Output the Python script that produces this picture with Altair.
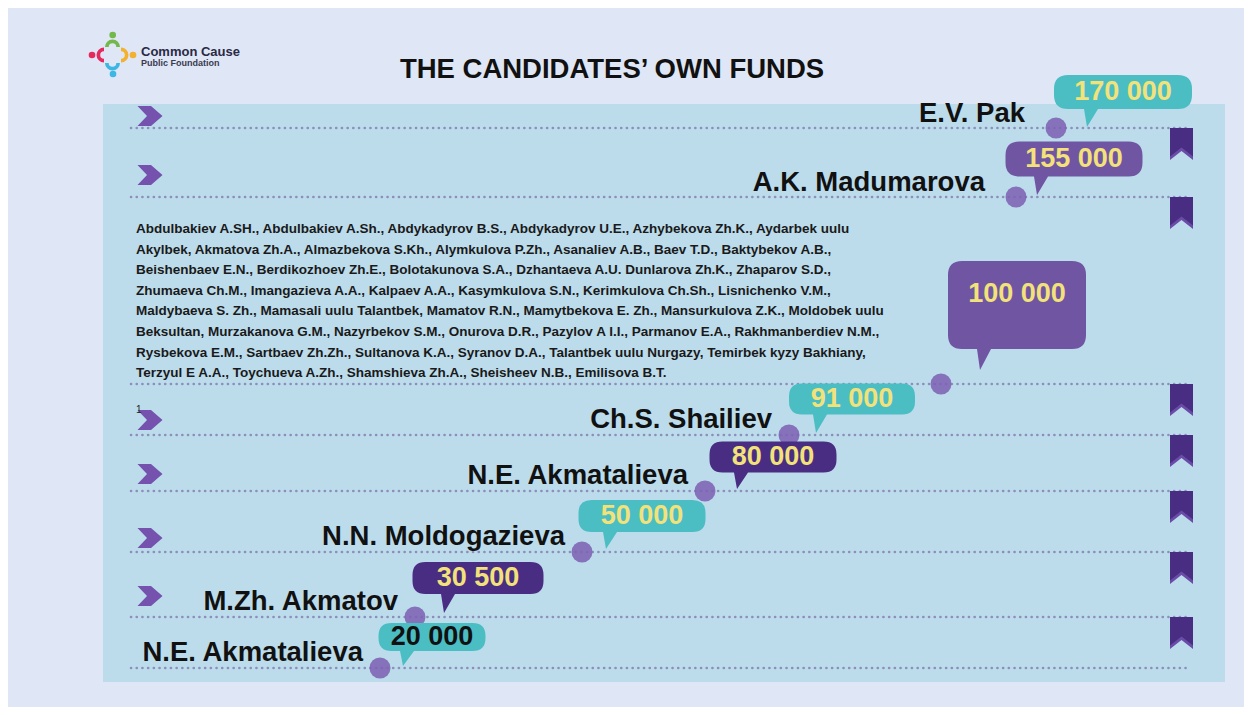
import altair as alt
import pandas as pd

# ---------------- data ----------------
values = [170000, 155000, 100000, 91000, 80000, 50000, 30500, 20000]
names = ["E.V. Pak", "A.K. Madumarova", "", "Ch.S. Shailiev", "N.E. Akmatalieva",
         "N.N. Moldogazieva", "M.Zh. Akmatov", "N.E. Akmatalieva"]
group_lines = [
    "Abdulbakiev A.SH., Abdulbakiev A.Sh., Abdykadyrov B.S., Abdykadyrov U.E., Azhybekova Zh.K., Aydarbek uulu",
    "Akylbek, Akmatova Zh.A., Almazbekova S.Kh., Alymkulova P.Zh., Asanaliev A.B., Baev T.D., Baktybekov A.B.,",
    "Beishenbaev E.N., Berdikozhoev Zh.E., Bolotakunova S.A., Dzhantaeva A.U. Dunlarova Zh.K., Zhaparov S.D.,",
    "Zhumaeva Ch.M., Imangazieva A.A., Kalpaev A.A., Kasymkulova S.N., Kerimkulova Ch.Sh., Lisnichenko V.M.,",
    "Maldybaeva S. Zh., Mamasali uulu Talantbek, Mamatov R.N., Mamytbekova E. Zh., Mansurkulova Z.K., Moldobek uulu",
    "Beksultan, Murzakanova G.M., Nazyrbekov S.M., Onurova D.R., Pazylov A I.I., Parmanov E.A., Rakhmanberdiev N.M.,",
    "Rysbekova E.M., Sartbaev Zh.Zh., Sultanova K.A., Syranov D.A., Talantbek uulu Nurgazy, Temirbek kyzy Bakhiany,",
    "Terzyul E A.A., Toychueva A.Zh., Shamshieva Zh.A., Sheisheev N.B., Emilisova B.T.",
]
title_text = "THE CANDIDATES\u2019 OWN FUNDS"
logo_name = "Common Cause"
logo_sub = "Public Foundation"
footnote = "1"

df = pd.DataFrame({"value": values, "name": names})
df["label"] = [f"{v:,}".replace(",", " ") for v in values]

# ---------------- styles / layout ----------------
FONT = "Liberation Sans"
TEAL = "#4bbec4"
MPURPLE = "#7055a3"
DPURPLE = "#482d82"
YELLOW = "#f3e27a"
DOT = "#7e62b4"
LINE = "#8c8fba"
CHEV = "#7452ad"

asc = sorted(values)
# staircase layout of the infographic (piecewise scales)
x_scale = alt.Scale(domain=asc, range=[277, 312, 479, 602, 686, 838, 913, 953], zero=False, nice=False)
y_scale = alt.Scale(domain=asc, range=[564, 513, 448, 387, 331, 280, 93, 24], zero=False, nice=False)
X = alt.X("value:Q", scale=x_scale, axis=None)
Y = alt.Y("value:Q", scale=y_scale, axis=None)

bubble_colors = [TEAL, MPURPLE, MPURPLE, TEAL, DPURPLE, TEAL, DPURPLE, TEAL]


def bubble(cx, cy, w, h, r, tx, ty):
    x0, x1 = cx - w / 2, cx + w / 2
    y0, y1 = cy - h / 2, cy + h / 2
    b0, b1 = tx - 3, tx + 11
    return (f"M{x0 + r},{y0} L{x1 - r},{y0} Q{x1},{y0} {x1},{y0 + r} L{x1},{y1 - r} "
            f"Q{x1},{y1} {x1 - r},{y1} L{b1},{y1} L{tx},{ty} L{b0},{y1} L{x0 + r},{y1} "
            f"Q{x0},{y1} {x0},{y1 - r} L{x0},{y0 + r} Q{x0},{y0} {x0 + r},{y0} Z")


bubble_shapes = [
    bubble(67, -36, 138, 34, 14, 31, -1),   # 170 000
    bubble(58, -38, 137, 35, 14, 21, -2),   # 155 000
    bubble(76, -79, 138, 88, 14, 39, -14),  # 100 000
    bubble(63, -36, 126, 31, 13, 27, -2),   # 91 000
    bubble(68, -34, 127, 31, 13, 32, -2),   # 80 000
    bubble(60, -36, 127, 32, 13, 24, -3),   # 50 000
    bubble(63, -39, 131, 32, 13, 29, -4),   # 30 500
    bubble(52, -31, 107, 28, 13, 23, -2),   # 20 000
]

CHEVRON = "M-12.5,-10 L1,-10 L12.5,0 L1,10 L-12.5,10 L-3,0 Z"
BOOK_LIGHT = "M-11.5,0 L11.5,0 L11.5,32 L0,23 L-11.5,32 Z"
BOOK_DARK = "M-11.5,0 L11.5,0 L11.5,28.5 L0,19.5 L-11.5,28.5 Z"

base = alt.Chart(df)

lines = base.mark_rule(strokeDash=[0.1, 5.6], strokeCap="round", strokeWidth=2.6, color=LINE).encode(
    x=alt.value(28), x2=alt.value(1085), y=Y)

books_light = base.transform_filter("datum.value != 20000").mark_point(
    shape=BOOK_LIGHT, size=4, filled=True, color="#6a4ca8", opacity=1, strokeWidth=0
).encode(x=alt.value(1078.5), y=Y)
books_dark = base.transform_filter("datum.value != 20000").mark_point(
    shape=BOOK_DARK, size=4, filled=True, color=DPURPLE, opacity=1, strokeWidth=0
).encode(x=alt.value(1078.5), y=Y)

chev_spec = [(170000, -12), (155000, -22), (91000, -15), (80000, -17), (50000, -14), (30500, -21)]
chevrons = [
    base.transform_filter(f"datum.value == {v}").mark_point(
        shape=CHEVRON, size=4, filled=True, color=CHEV, opacity=1, strokeWidth=0, yOffset=off
    ).encode(x=alt.value(47), y=Y)
    for v, off in chev_spec
]

foot = base.transform_filter("datum.value == 91000").mark_text(
    fontSize=10, font=FONT, color="#222222", align="left", baseline="middle", dy=-25
).encode(x=alt.value(33), y=Y, text=alt.value(footnote))

paragraph = base.transform_filter("datum.value == 100000").mark_text(
    fontSize=13.5, font=FONT, fontWeight="bold", color="#1a1a1a", align="left",
    baseline="top", lineHeight=20.6, dy=-162
).encode(x=alt.value(33), y=Y, text=alt.value(group_lines))

name_top = base.transform_filter("datum.value >= 155000").mark_text(
    fontSize=27.5, font=FONT, fontWeight="bold", color="#111111", align="right",
    baseline="alphabetic", dx=-31, dy=-6
).encode(x=X, y=Y, text="name:N")
name_low = base.transform_filter("datum.name != '' && datum.value < 155000").mark_text(
    fontSize=27.5, font=FONT, fontWeight="bold", color="#111111", align="right",
    baseline="alphabetic", dx=-17, dy=-7
).encode(x=X, y=Y, text="name:N")

dots = base.mark_circle(size=440, color=DOT, opacity=0.88).encode(x=X, y=Y)

bubbles = base.mark_point(size=4, filled=True, opacity=1, strokeWidth=0).encode(
    x=X, y=Y,
    shape=alt.Shape("value:N", scale=alt.Scale(domain=values, range=bubble_shapes), legend=None),
    color=alt.Color("value:N", scale=alt.Scale(domain=values, range=bubble_colors), legend=None),
)

text_spec = [  # value, dx, dy, colour
    (170000, 67, -36, YELLOW), (155000, 58, -38, YELLOW), (100000, 76, -90, YELLOW),
    (91000, 63, -36, YELLOW), (80000, 68, -34, YELLOW), (50000, 60, -36, YELLOW),
    (30500, 63, -39, YELLOW), (20000, 52, -31, "#111111"),
]
btexts = [
    base.transform_filter(f"datum.value == {v}").mark_text(
        fontSize=27, font=FONT, fontWeight="bold", color=c, align="center", baseline="middle", dx=dx, dy=dy
    ).encode(x=X, y=Y, text="label:N")
    for v, dx, dy, c in text_spec
]

# title + logo (decorative, outside the panel)
one = pd.DataFrame({"t": [title_text]})
title = alt.Chart(one).mark_text(fontSize=27.5, font=FONT, fontWeight="bold", color="#111111",
                                 align="center", baseline="alphabetic").encode(
    x=alt.value(509), y=alt.value(-26), text=alt.value(title_text))

logo_layers = []
for col, cx, cy, t0, t1 in [("#72b84a", 9.5, -57, 4.712, 7.854),
                            ("#e42a5d", 1, -49, 3.1416, 6.2832),
                            ("#f3b12f", 18, -49, 0.0, 3.1416),
                            ("#3cb7e4", 9.5, -41, 1.5708, 4.712)]:
    logo_layers.append(alt.Chart(one).mark_arc(radius=7.5, radius2=3.8, theta=t0, theta2=t1, color=col)
                       .encode(x=alt.value(cx), y=alt.value(cy)))
for col, cx, cy in [("#72b84a", 9.7, -69), ("#e42a5d", -11, -49), ("#f3b12f", 30, -49), ("#3cb7e4", 10, -30)]:
    logo_layers.append(alt.Chart(one).mark_circle(size=44, color=col, opacity=1)
                       .encode(x=alt.value(cx), y=alt.value(cy)))
logo_t1 = alt.Chart(one).mark_text(fontSize=13, font=FONT, fontWeight="bold", color="#2a2a44",
                                   align="left", baseline="alphabetic").encode(
    x=alt.value(38), y=alt.value(-48), text=alt.value(logo_name))
logo_t2 = alt.Chart(one).mark_text(fontSize=9, font=FONT, fontWeight="bold", color="#3a3a50",
                                   align="left", baseline="alphabetic").encode(
    x=alt.value(38), y=alt.value(-38), text=alt.value(logo_sub))

chart = alt.layer(
    lines, books_light, books_dark, *chevrons, foot, paragraph, name_top, name_low, dots,
    bubbles, *btexts, title, *logo_layers, logo_t1, logo_t2
).properties(
    width=1122, height=578,
    padding={"left": 95, "top": 96, "right": 19, "bottom": 25},
    autosize=alt.AutoSizeParams(type="none"),
    background="#dfe6f6",
).configure_view(fill="#bcdcec", strokeWidth=0)

chart.save("out.html", embed_options={"renderer": "svg", "actions": False})
